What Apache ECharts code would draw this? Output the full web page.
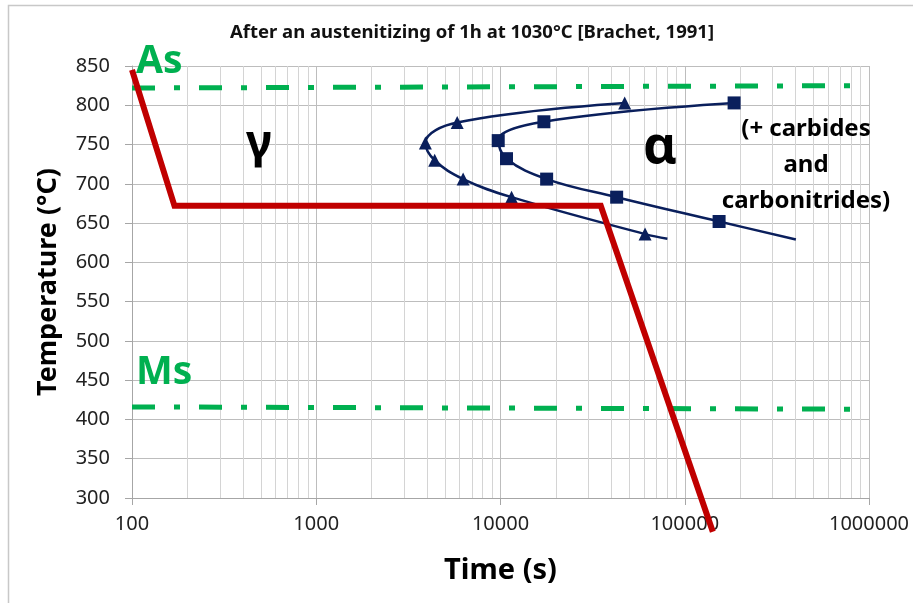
<!DOCTYPE html>
<html>
<head>
<meta charset="utf-8">
<script src="https://cdn.jsdelivr.net/npm/echarts@6/dist/echarts.min.js"></script>
<style>
  html, body { margin: 0; padding: 0; background: #fff; }
  #chart { width: 913px; height: 603px; }
</style>
</head>
<body>
<div id="chart"></div>
<script>
// data
var xTicks = [100, 1000, 10000, 100000, 1000000];
var yTicks = [300, 350, 400, 450, 500, 550, 600, 650, 700, 750, 800, 850];

// cooling path (red)
var coolTime = [100, 170, 35000, 142000];
var coolTemp = [845, 672, 672, 257];

// As / Ms lines
var asTime = [100, 1000000];
var asTemp = [822, 825];
var msTime = [100, 1000000];
var msTemp = [416, 413];

// start curve (triangles), last point is the line end without marker
var startTime = [47200, 5820, 3910, 4395, 6270, 11480, 60900, 80500];
var startTemp = [803, 778, 752, 730, 706, 683, 636, 630];
// end curve (squares)
var endTime = [185300, 17200, 9720, 10780, 17800, 42700, 153600, 401000];
var endTemp = [803, 779, 755, 732, 706, 683, 652, 629];

function pairs(xs, ys, lastNoSymbol) {
  return xs.map(function (x, i) {
    var p = { value: [x, ys[i]] };
    if (lastNoSymbol && i === xs.length - 1) p.symbol = 'none';
    return p;
  });
}

// minor log grid lines 2..9 in every decade
var minorLines = [];
for (var d = 100; d < 1000000; d *= 10) {
  for (var k = 2; k <= 9; k++) minorLines.push({ xAxis: d * k });
}

var chart = echarts.init(document.getElementById('chart'));
var font = '"Noto Sans", "Open Sans", sans-serif';
var navy = '#0a1f5c';
var green = '#00b050';

chart.setOption({
  animation: false,
  textStyle: { fontFamily: font },
  title: {
    text: 'After an austenitizing of 1h at 1030°C [Brachet, 1991]',
    left: 467, top: 18, textAlign: 'center',
    textStyle: { fontSize: 18.5, fontWeight: 'bold', color: '#111', fontFamily: font }
  },
  grid: { left: 132, right: 44, top: 66, bottom: 105 },
  xAxis: {
    type: 'log', logBase: 10, min: xTicks[0], max: xTicks[xTicks.length - 1],
    name: 'Time (s)', nameLocation: 'middle', nameGap: 58,
    nameTextStyle: { fontSize: 29, fontWeight: 'bold', color: '#000', fontFamily: font },
    axisLine: { show: true, lineStyle: { color: '#a6a6a6', width: 1 } },
    axisTick: { show: true, length: 7, lineStyle: { color: '#a6a6a6' } },
    axisLabel: { fontSize: 20, color: '#222', margin: 16, fontFamily: font,
      formatter: function (v) { return String(Math.round(v)); } },
    splitLine: { show: true, lineStyle: { color: '#bdbdbd', width: 1 } }
  },
  yAxis: {
    type: 'value', min: yTicks[0], max: yTicks[yTicks.length - 1], interval: 50,
    name: 'Temperature (°C)', nameLocation: 'middle', nameGap: 70,
    nameTextStyle: { fontSize: 27, fontWeight: 'bold', color: '#000', fontFamily: font },
    axisLine: { show: true, lineStyle: { color: '#a6a6a6', width: 1 } },
    axisTick: { show: true, length: 7, lineStyle: { color: '#a6a6a6' } },
    axisLabel: { fontSize: 20, color: '#222', margin: 22, fontFamily: font },
    splitLine: { show: true, lineStyle: { color: '#bdbdbd', width: 1 } }
  },
  graphic: [
    { type: 'rect', silent: true, z: -1,
      shape: { x: 8.5, y: 5.5, width: 1000, height: 700 },
      style: { fill: 'none', stroke: '#c8c8c8', lineWidth: 1.5 } },
    { type: 'text', left: 136, top: 42, z: 100,
      style: { text: 'As', fontSize: 39, fontWeight: 'bold', fill: green, fontFamily: font } },
    { type: 'text', left: 136, top: 353, z: 100,
      style: { text: 'Ms', fontSize: 39, fontWeight: 'bold', fill: green, fontFamily: font } },
    { type: 'text', left: 246, top: 122, z: 100,
      style: { text: 'γ', fontSize: 46, fontWeight: 'bold', fill: '#000', fontFamily: font } },
    { type: 'text', left: 643, top: 122, z: 100,
      style: { text: 'α', fontSize: 52, fontWeight: 'bold', fill: '#000', fontFamily: font } },
    { type: 'text', x: 806, y: 111, z: 100,
      style: { text: '(+ carbides\nand\ncarbonitrides)', align: 'center', lineHeight: 36,
        fontSize: 24, fontWeight: 'bold', fill: '#000', fontFamily: font } }
  ],
  series: [
    {
      type: 'line', data: [], silent: true, z: 1,
      markLine: { silent: true, z: 1, symbol: 'none', label: { show: false },
        lineStyle: { color: '#d4d4d4', width: 1, type: 'solid' }, data: minorLines }
    },
    {
      type: 'line', data: pairs(asTime, asTemp), symbol: 'none', z: 3,
      lineStyle: { color: green, width: 5, type: [23, 19, 6, 19], cap: 'butt' }
    },
    {
      type: 'line', data: pairs(msTime, msTemp), symbol: 'none', z: 3,
      lineStyle: { color: green, width: 5, type: [23, 19, 6, 19], cap: 'butt' }
    },
    {
      type: 'line', data: pairs(startTime, startTemp, true), smooth: 0.4, z: 4,
      symbol: 'triangle', symbolSize: 13, showAllSymbol: true,
      itemStyle: { color: navy }, lineStyle: { color: navy, width: 2.5 }
    },
    {
      type: 'line', data: pairs(endTime, endTemp, true), smooth: 0.4, z: 4,
      symbol: 'rect', symbolSize: 13, showAllSymbol: true,
      itemStyle: { color: navy }, lineStyle: { color: navy, width: 2.5 }
    },
    {
      type: 'line', data: pairs(coolTime, coolTemp), symbol: 'none', clip: false, z: 5,
      lineStyle: { color: '#c00000', width: 6, join: 'miter' }
    }
  ]
});
</script>
</body>
</html>
